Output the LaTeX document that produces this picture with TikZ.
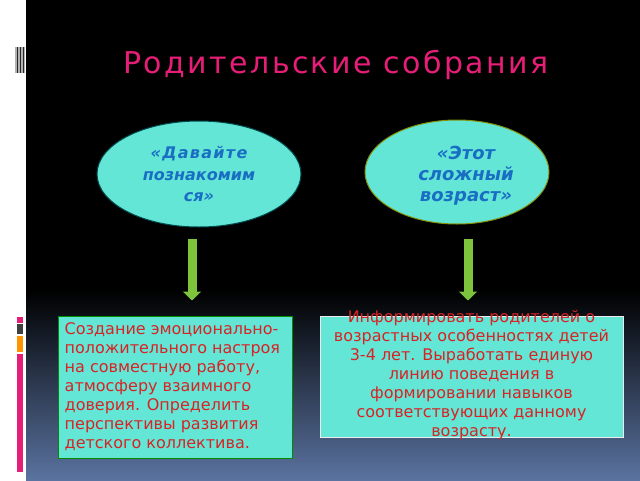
\documentclass[tikz,border=0pt]{standalone}
\usepackage{fontspec}
\setmainfont{DejaVu Sans}
\newfontfamily\spacedfont[LetterSpace=8]{DejaVu Sans}
\usepackage{tikz}
\usetikzlibrary{positioning,shapes.geometric,arrows.meta}
\definecolor{titlepink}{RGB}{230,30,120}
\definecolor{ovaltext}{RGB}{25,110,195}
\definecolor{boxtext}{RGB}{215,35,35}
\definecolor{aqua}{RGB}{100,230,215}
\definecolor{arrowgreen}{RGB}{125,195,60}
\definecolor{slideblue}{RGB}{90,115,160}

\begin{document}
\begin{tikzpicture}[x=1pt,y=-1pt,
                    oval/.style={ellipse,fill=aqua,draw,line width=1pt,inner sep=0pt,
                      text=ovaltext,align=center,font=\fontsize{16}{21.5}\selectfont\bfseries\itshape},
                    ovaltxt/.style={text=ovaltext,align=center,font=\fontsize{18}{21}\selectfont\bfseries\itshape},
                    infobox/.style={rectangle,fill=aqua,draw,line width=1pt,inner sep=0pt},
                    infotext/.style={text=boxtext,inner sep=0pt,font=\fontsize{16}{19}\selectfont},
                    fat/.style={arrowgreen,line width=9pt,-{Triangle[width=18pt,length=9pt]}}]
\useasboundingbox (0,0) rectangle (640,480);
\fill[white] (0,0) rectangle (640,480);
\fill[black] (26,0) rectangle (640,290);
\shade[top color=black,bottom color=slideblue] (26,290) rectangle (640,480);
\fill[gray!60] (15,47) rectangle (25,73);
\foreach \x in {17,20,23} \fill[black!85] (\x,47) rectangle (\x+1.3,73);
\fill[titlepink] (17,317) rectangle (23,323);
\fill[gray!50!black] (17,324) rectangle (23,334);
\fill[orange!85!yellow] (17,336) rectangle (23,352);
\fill[titlepink] (17,354) rectangle (23,472);

\node[text=titlepink,font=\fontsize{30}{36}\selectfont\addfontfeature{LetterSpace=8}] (title) at (336,65) {Родительские собрания};

\node[oval,draw=teal!60!black,minimum width=204pt,minimum height=106pt] (e1) at (199,174)
     {\spacedfont «Давайте\\познакомим\\ся»};
\node[oval,draw=olive!80!green,minimum width=184pt,minimum height=104pt] (e2) at (457,172) {};
\node[ovaltxt] (o2) at ([xshift=9pt,yshift=-4pt]e2.center) {«Этот\\сложный\\возраст»};

\node[infobox,draw=green!55!black,minimum width=234pt,minimum height=142pt] (b1) at (175,387) {};
\node[infotext,align=left,anchor=west] (t1) at ([xshift=7pt]b1.west)
     {Создание эмоционально-\\положительного настроя\\на совместную работу,\\атмосферу взаимного\\доверия. Определить\\перспективы развития\\детского коллектива.};
\node[infobox,draw=white!85!gray,minimum width=303pt,minimum height=121pt] (b2) at (471.5,376.5) {};
\node[infotext,align=center] (t2) at ([yshift=1pt]b2.center)
     {Информировать родителей о\\возрастных особенностях детей\\3-4 лет. Выработать единую\\линию поведения в\\формировании навыков\\соответствующих данному\\возрасту.};

\coordinate (a1) at ([xshift=-7pt]e1.south);
\coordinate (a2) at ([xshift=11pt]e2.south);
\draw[fat,shorten <=11pt,shorten >=15pt] (a1) -- (a1 |- b1.north);
\draw[fat,shorten <=14pt,shorten >=15pt] (a2) -- (a2 |- b2.north);
\end{tikzpicture}
\end{document}
